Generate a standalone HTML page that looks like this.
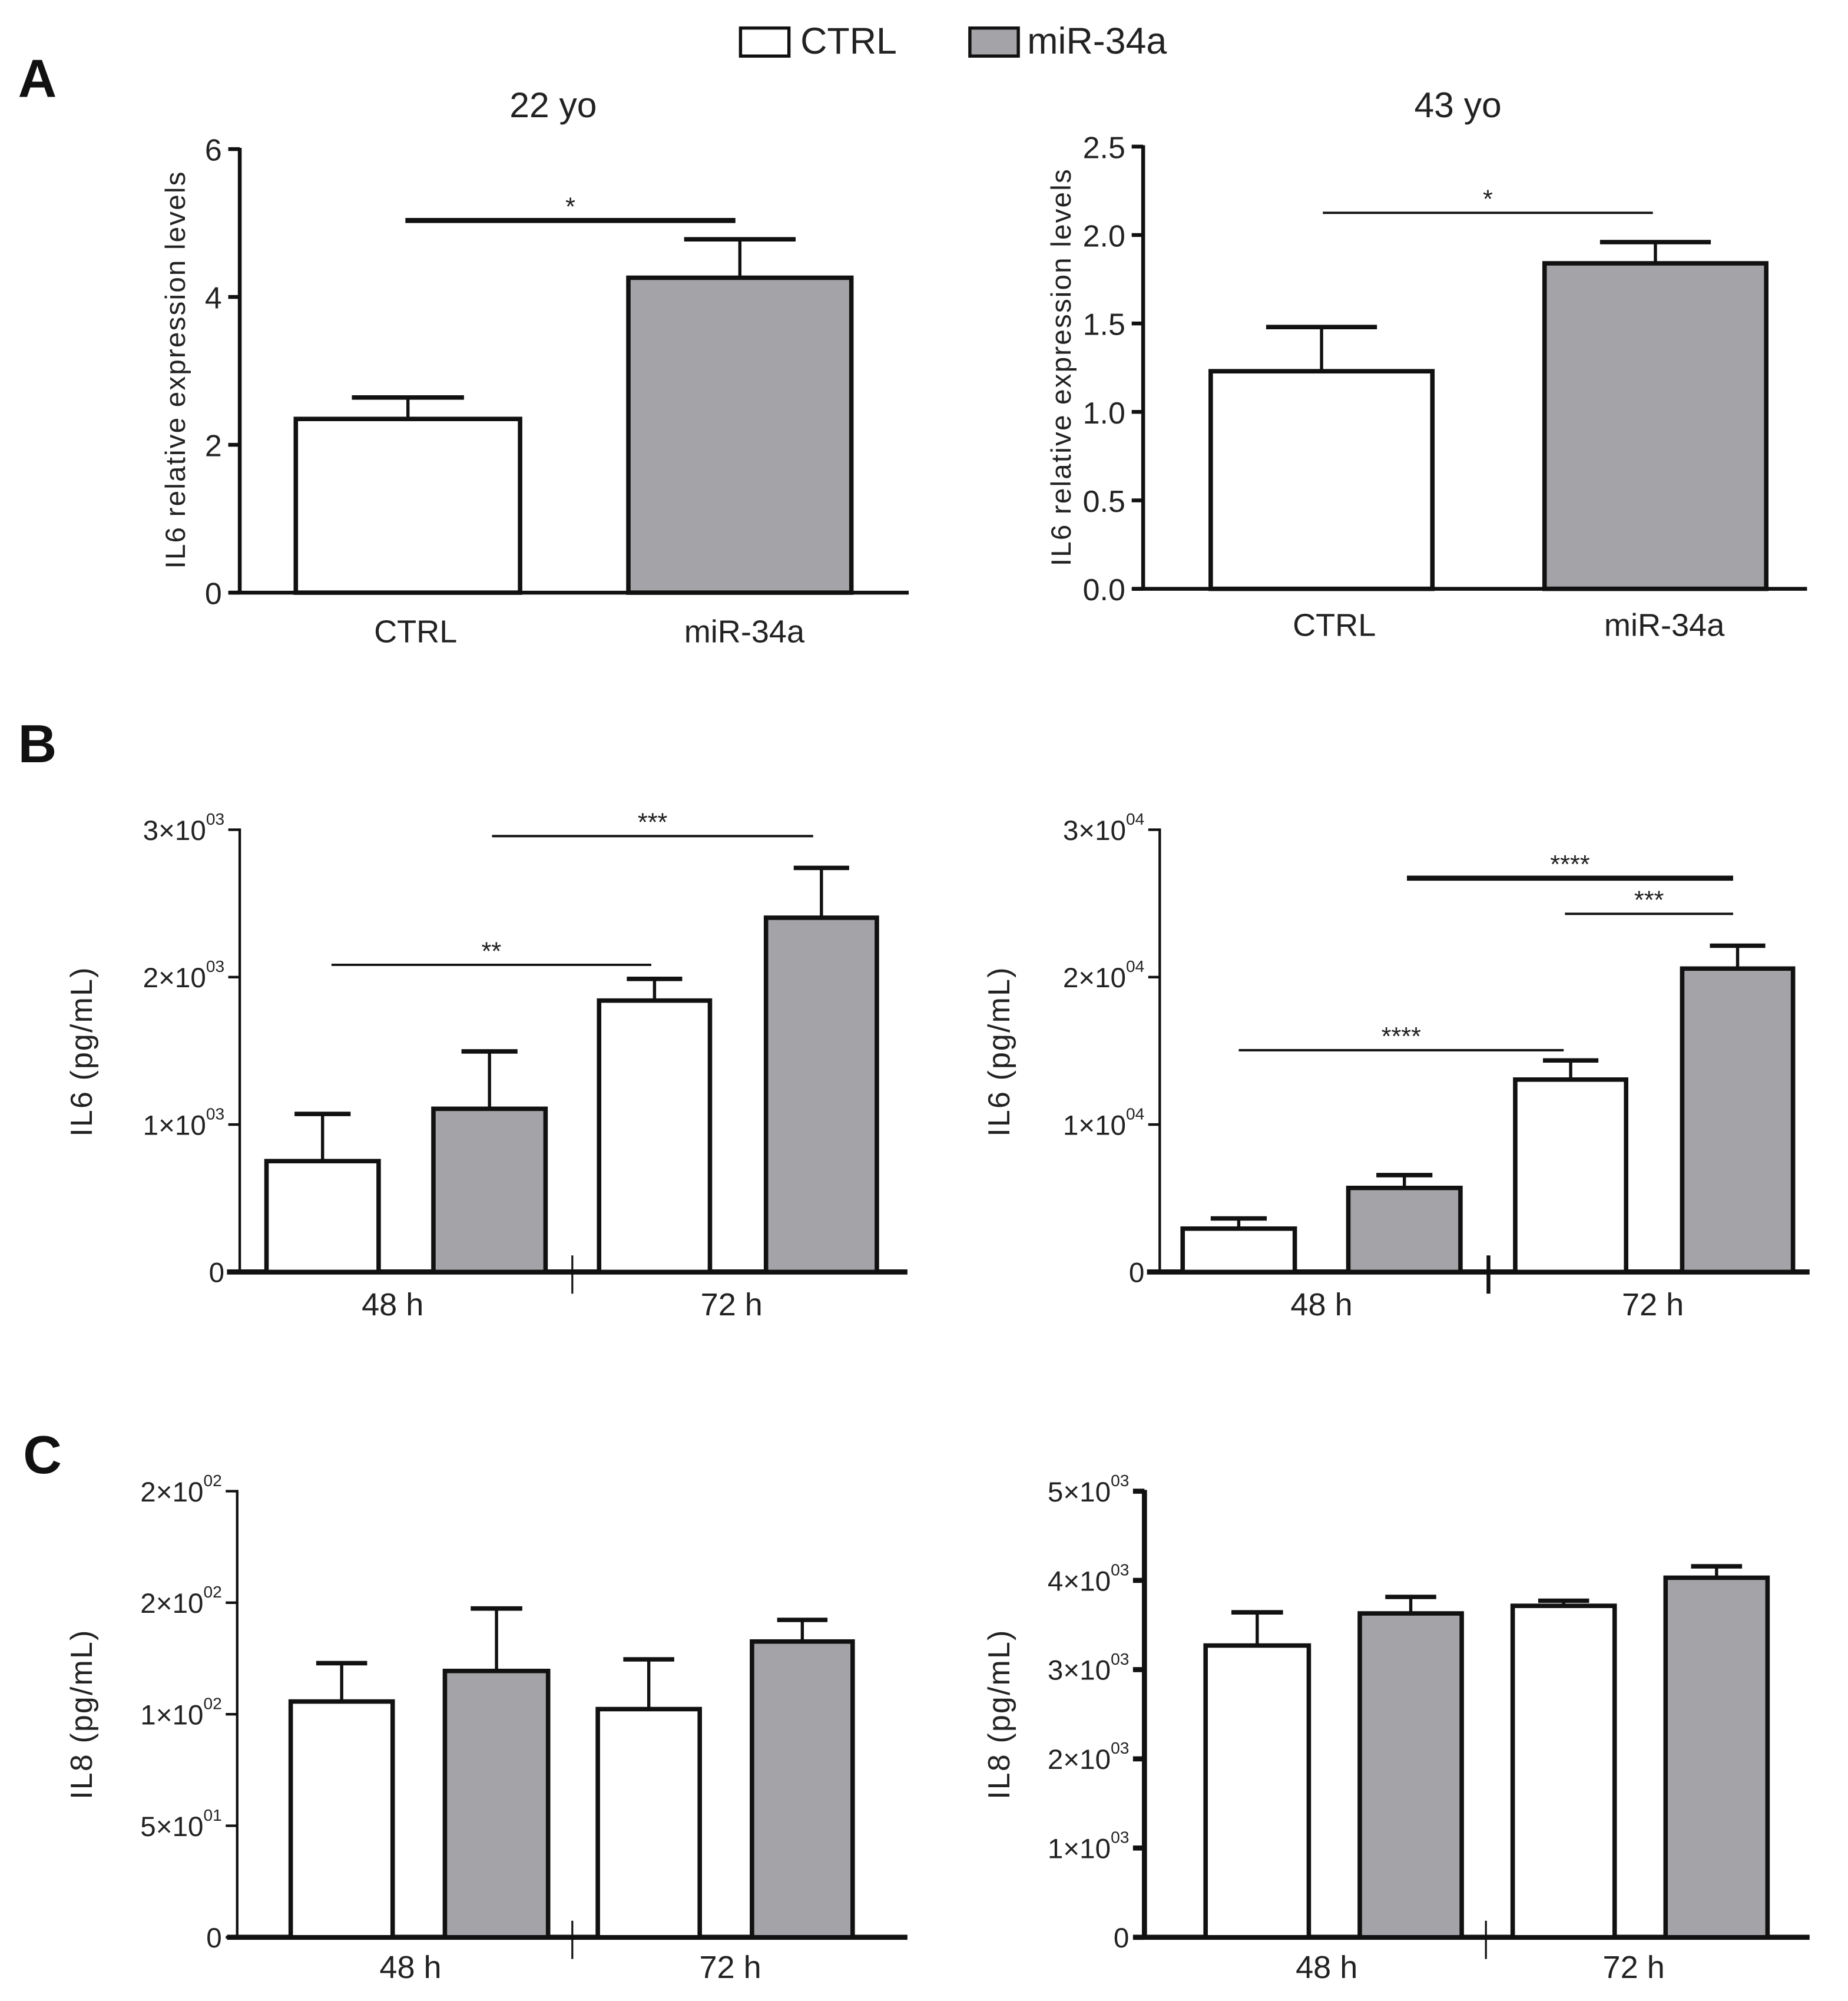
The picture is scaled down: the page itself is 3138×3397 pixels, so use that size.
<!DOCTYPE html>
<html><head><meta charset="utf-8"><style>html,body{margin:0;padding:0;background:#fff}svg{display:block}text{font-family:"Liberation Sans",sans-serif;fill:#222}</style></head>
<body>
<svg id="fig" width="3138" height="3397" viewBox="0 0 1450 1570" xmlns="http://www.w3.org/2000/svg">
<g>
<rect x="581" y="22" width="38" height="22" fill="#fff" stroke="#111" stroke-width="2.5"/>
<text x="628" y="42" font-size="29">CTRL</text>
<rect x="761" y="22" width="38" height="22" fill="#a3a3a8" stroke="#111" stroke-width="2.5"/>
<text x="806" y="42" font-size="29">miR-34a</text>
</g>
<text x="14" y="76" font-size="42" font-weight="bold" style="fill:#111">A</text>
<text x="14" y="598" font-size="42" font-weight="bold" style="fill:#111">B</text>
<text x="18" y="1156" font-size="42" font-weight="bold" style="fill:#111">C</text>
</svg>
<script>
// Panel A left (22 yo)
const aLeftCats = ["CTRL", "miR-34a"];
const aLeftVals = [2.35, 4.26];
const aLeftErr = [0.29, 0.52];
const aLeftTicks = [0, 2, 4, 6];
// Panel A right (43 yo)
const aRightCats = ["CTRL", "miR-34a"];
const aRightVals = [1.23, 1.84];
const aRightErr = [0.25, 0.12];
const aRightTicks = [0, 0.5, 1.0, 1.5, 2.0, 2.5];
const aRightTickLabels = ["0.0", "0.5", "1.0", "1.5", "2.0", "2.5"];
// Panel B left
const bLeftVals = [752, 1107, 1841, 2403];
const bLeftErr = [320, 389, 147, 338];
const bLeftTicks = [0, 1000, 2000, 3000];
const bLeftTickLabels = [["0",""], ["1×10","03"], ["2×10","03"], ["3×10","03"]];
// Panel B right
const bRightVals = [2940, 5700, 13050, 20580];
const bRightErr = [690, 870, 1300, 1550];
const bRightTicks = [0, 10000, 20000, 30000];
const bRightTickLabels = [["0",""], ["1×10","04"], ["2×10","04"], ["3×10","04"]];
// Panel C left
const cLeftVals = [105.7, 119.4, 102.3, 132.6];
const cLeftErr = [17.2, 28.0, 22.3, 9.7];
const cLeftTicks = [0, 50, 100, 150, 200];
const cLeftTickLabels = [["0",""], ["5×10","01"], ["1×10","02"], ["2×10","02"], ["2×10","02"]];
// Panel C right
const cRightVals = [3270, 3630, 3715, 4030];
const cRightErr = [372, 185, 57, 128];
const cRightTicks = [0, 1000, 2000, 3000, 4000, 5000];
const cRightTickLabels = [["0",""], ["1×10","03"], ["2×10","03"], ["3×10","03"], ["4×10","03"], ["5×10","03"]];
const timeCats = ["48 h", "72 h"];

const NS = "http://www.w3.org/2000/svg";
const svg = document.getElementById('fig');
function mk(tag, attrs, parent, txt) {
  const e = document.createElementNS(NS, tag);
  for (const k in attrs) e.setAttribute(k, attrs[k]);
  if (txt !== undefined) e.textContent = txt;
  (parent || svg).appendChild(e);
  return e;
}

function panel(cfg) {
  const g = mk('g', {});
  
  
  const y = v => cfg.y0 - (v - cfg.min) / (cfg.max - cfg.min) * (cfg.y0 - cfg.y1);
  // y axis
  const ya = mk('line', {x1: cfg.ax, y1: cfg.y1 - 1, x2: cfg.ax, y2: cfg.y0, stroke: '#111', 'stroke-width': cfg.axw}, g);
  
  
  const xa = mk('line', {x1: cfg.xs, y1: cfg.y0, x2: cfg.xe, y2: cfg.y0, stroke: '#111', 'stroke-width': cfg.xaw}, g);
  
  
  cfg.ticks.forEach((t, i) => {
    const ty = y(t);
    const tk = mk('line', {x1: cfg.ax - 9, y1: ty, x2: cfg.ax, y2: ty, stroke: '#111', 'stroke-width': cfg.axw}, g);
    
    
    const lab = cfg.labels[i];
    if (Array.isArray(lab)) {
      const tx = mk('text', {x: cfg.ax - 12, y: ty + 8, 'font-size': 22, 'text-anchor': 'end'}, g);
      
      
      mk('tspan', {}, tx, lab[0]);
      if (lab[1]) mk('tspan', {'font-size': 13, dy: -12}, tx, lab[1]);
    } else {
      const tx = mk('text', {x: cfg.ax - 14, y: ty + 9, 'font-size': 24, 'text-anchor': 'end'}, g, lab);
      
      
    }
  });
  cfg.vals.forEach((v, i) => {
    const [bx, bw] = cfg.bars[i];
    const top = y(v);
    const et = y(v + cfg.err[i]);
    const cx = bx + bw / 2;
    const el = mk('line', {x1: cx, y1: et, x2: cx, y2: top, stroke: '#111', 'stroke-width': 2.5}, g);
    
    
    const cap = mk('line', {x1: cx - bw * 0.25, y1: et, x2: cx + bw * 0.25, y2: et, stroke: '#111', 'stroke-width': 3.5}, g);
    
    
    const r = mk('rect', {x: bx, y: top, width: bw, height: cfg.y0 - top, fill: (i % 2 === 0) ? '#fff' : '#a3a3a8', stroke: '#111', 'stroke-width': 3.5}, g);
    
    
  });
  if (cfg.div) {
    const d = mk('line', {x1: cfg.div, y1: cfg.y0 - 13, x2: cfg.div, y2: cfg.y0 + 17, stroke: '#111', 'stroke-width': cfg.divw || 1.5}, g);
    
    
  }
  cfg.cats.forEach((c, i) => {
    const t = mk('text', {x: cfg.catx[i], y: cfg.caty, 'font-size': cfg.catfs, 'text-anchor': 'middle'}, g, c);
    
    
  });
  (cfg.sig || []).forEach(s => {
    const l = mk('line', {x1: s[0], y1: s[2], x2: s[1], y2: s[2], stroke: '#111', 'stroke-width': s[4]}, g);
    
    
    const t = mk('text', {x: (s[0] + s[1]) / 2, y: s[2] - 4, 'font-size': 20, 'text-anchor': 'middle'}, g, s[3]);
    
    
  });
  const yl = mk('text', {x: 0, y: 0, 'font-size': cfg.ylfs, 'text-anchor': 'middle', transform: `translate(${cfg.ylx},${cfg.yly}) rotate(-90)`, 'letter-spacing': 1}, g, cfg.ylabel);
  
  
  if (cfg.title) {
    const t = mk('text', {x: cfg.title[1], y: 92, 'font-size': 28, 'text-anchor': 'middle'}, g, cfg.title[0]);
    
    
  }
}

panel({name: 'panel-a-22yo', ax: 188, y0: 465, y1: 117, min: 0, max: 6, xs: 180, xe: 713, axw: 3, xaw: 3,
  ticks: aLeftTicks, labels: aLeftTicks.map(String), vals: aLeftVals, err: aLeftErr,
  bars: [[232, 176], [493, 175]], cats: aLeftCats, catx: [326, 584], caty: 504, catfs: 25,
  sig: [[318, 577, 173, '*', 4]], ylabel: 'IL6 relative expression levels', ylx: 145, yly: 290, ylfs: 22, title: ['22 yo', 434]});
panel({name: 'panel-a-43yo', ax: 897, y0: 462, y1: 115, min: 0, max: 2.5, xs: 889, xe: 1418, axw: 3, xaw: 3,
  ticks: aRightTicks, labels: aRightTickLabels, vals: aRightVals, err: aRightErr,
  bars: [[950, 174], [1212, 174]], cats: aRightCats, catx: [1047, 1306], caty: 499, catfs: 25,
  sig: [[1038, 1297, 167, '*', 1.8]], ylabel: 'IL6 relative expression levels', ylx: 840, yly: 288, ylfs: 22, title: ['43 yo', 1144]});
panel({name: 'panel-b-left', ax: 188, y0: 998, y1: 651, min: 0, max: 3000, xs: 178, xe: 712, axw: 2, xaw: 4,
  ticks: bLeftTicks, labels: bLeftTickLabels, vals: bLeftVals, err: bLeftErr,
  bars: [[209, 88], [340, 88], [470, 87], [601, 87]], div: 449, cats: timeCats, catx: [308, 574], caty: 1032, catfs: 25,
  sig: [[260, 511, 757, '**', 1.8], [386, 638, 656, '***', 1.8]], ylabel: 'IL6 (pg/mL)', ylx: 72, yly: 825, ylfs: 24});
panel({name: 'panel-b-right', ax: 910, y0: 998, y1: 651, min: 0, max: 30000, xs: 900, xe: 1420, axw: 2, xaw: 4,
  ticks: bRightTicks, labels: bRightTickLabels, vals: bRightVals, err: bRightErr,
  bars: [[928, 88], [1058, 88], [1189, 87], [1320, 87]], div: 1168, divw: 3, cats: timeCats, catx: [1037, 1297], caty: 1032, catfs: 25,
  sig: [[972, 1227, 824, '****', 1.8], [1104, 1360, 689, '****', 4], [1228, 1360, 717, '***', 1.8]], ylabel: 'IL6 (pg/mL)', ylx: 792, yly: 825, ylfs: 24});
panel({name: 'panel-c-left', ax: 186, y0: 1520, y1: 1170, min: 0, max: 200, xs: 178, xe: 712, axw: 2, xaw: 4,
  ticks: cLeftTicks, labels: cLeftTickLabels, vals: cLeftVals, err: cLeftErr,
  bars: [[228, 80], [349, 81], [469, 80], [590, 79]], div: 449, cats: timeCats, catx: [322, 573], caty: 1552, catfs: 25,
  ylabel: 'IL8 (pg/mL)', ylx: 72, yly: 1345, ylfs: 24});
panel({name: 'panel-c-right', ax: 898, y0: 1520, y1: 1170, min: 0, max: 5000, xs: 890, xe: 1420, axw: 4, xaw: 4,
  ticks: cRightTicks, labels: cRightTickLabels, vals: cRightVals, err: cRightErr,
  bars: [[946, 81], [1067, 80], [1187, 80], [1307, 80]], div: 1166, cats: timeCats, catx: [1041, 1282], caty: 1552, catfs: 25,
  ylabel: 'IL8 (pg/mL)', ylx: 792, yly: 1345, ylfs: 24});
</script>
</body></html>
